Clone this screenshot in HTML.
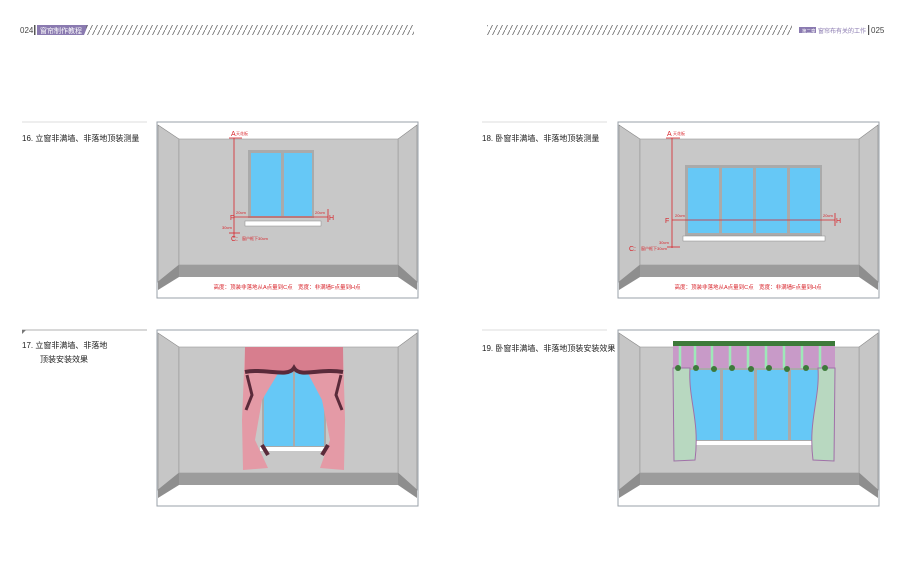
<!DOCTYPE html>
<html><head><meta charset="utf-8"><style>
html,body{margin:0;padding:0;background:#fff;}
svg{display:block;font-family:"Liberation Sans","Noto Sans CJK SC",sans-serif;}
</style></head><body>
<svg width="900" height="568" viewBox="0 0 900 568" xmlns="http://www.w3.org/2000/svg">
<defs>
<pattern id="hatch" width="5" height="10" patternUnits="userSpaceOnUse">
<line x1="0" y1="10" x2="5" y2="0" stroke="#666" stroke-width="0.8"/>
</pattern>
<g id="room">
<rect x="0" y="0" width="261" height="176" fill="#fff" stroke="#9aa0a8" stroke-width="1"/>
<polygon points="1,3 22,17 22,143 1,160" fill="#c6c6c6" stroke="#888" stroke-width="0.6"/>
<polygon points="1,160 22,143 22,155 1,168" fill="#8e8e8e"/>
<polygon points="260,3 241,17 241,143 260,160" fill="#c6c6c6" stroke="#888" stroke-width="0.6"/>
<polygon points="260,160 241,143 241,155 260,168" fill="#8e8e8e"/>
<rect x="22" y="17" width="219" height="126" fill="#c8c8c8" stroke="#999" stroke-width="0.6"/>
<rect x="22" y="143" width="219" height="12" fill="#9c9c9c"/>
</g>
</defs>

<!-- headers -->
<text x="20" y="33" font-size="8" fill="#444">024</text>
<rect x="34" y="25" width="1.5" height="10" fill="#555"/>
<polygon points="37,25 88,25 84,35 37,35" fill="#8a7ab0"/>
<text x="40" y="33" font-size="7" fill="#fff">窗帘制作教程</text>
<rect x="86" y="25" width="328" height="10" fill="url(#hatch)"/>
<rect x="487" y="25" width="305" height="10" fill="url(#hatch)"/>
<rect x="799" y="27" width="17" height="6" fill="#8a7ab0"/>
<text x="802" y="32.5" font-size="4.5" fill="#fff">第二章</text>
<text x="818" y="33" font-size="6" fill="#8a7ab0">窗帘布有关的工作</text>
<rect x="868" y="25" width="1.2" height="10" fill="#555"/>
<text x="871" y="33" font-size="8" fill="#444">025</text>

<!-- titles -->
<line x1="22" y1="122" x2="147" y2="122" stroke="#bbb" stroke-width="0.6"/>
<text x="22" y="141" font-size="8" fill="#222">16.  立窗非满墙、非落地顶装测量</text>
<line x1="22" y1="330" x2="147" y2="330" stroke="#999" stroke-width="0.8"/>
<polygon points="22,330 26,330 22,334" fill="#777"/>
<text x="22" y="348" font-size="8" fill="#222">17.  立窗非满墙、非落地</text>
<text x="40" y="362" font-size="8" fill="#222">顶装安装效果</text>
<line x1="482" y1="122" x2="607" y2="122" stroke="#bbb" stroke-width="0.6"/>
<text x="482" y="141" font-size="8" fill="#222">18.  卧窗非满墙、非落地顶装测量</text>
<line x1="482" y1="330" x2="607" y2="330" stroke="#bbb" stroke-width="0.6"/>
<text x="482" y="351" font-size="8" fill="#222">19.  卧窗非满墙、非落地顶装安装效果</text>

<!-- Panel 16 -->
<use href="#room" x="157" y="122"/>
<rect x="248" y="150" width="66" height="68" fill="#aaa"/>
<rect x="251" y="153" width="30" height="63" fill="#66c8f6"/>
<rect x="284" y="153" width="28" height="63" fill="#66c8f6"/>
<rect x="245" y="221" width="76" height="5" fill="#fff" stroke="#888" stroke-width="0.5"/>
<g stroke="#d8232a" stroke-width="0.8" fill="none">
<line x1="234" y1="138" x2="234" y2="238"/>
<line x1="229" y1="138" x2="242" y2="138"/>
<line x1="234" y1="217" x2="328" y2="217"/>
<line x1="328" y1="209" x2="328" y2="222"/>
<line x1="229" y1="233" x2="240" y2="233"/>
</g>
<g fill="#d8232a">
<text x="231" y="136" font-size="7">A</text><text x="236" y="135" font-size="4">天花板</text>
<text x="230" y="220" font-size="7">F</text>
<text x="236" y="214" font-size="4">20cm</text>
<text x="315" y="214" font-size="4">20cm</text>
<text x="329" y="220" font-size="7">H</text>
<text x="222" y="229" font-size="4">30cm</text>
<text x="231" y="241" font-size="7">C:</text><text x="242" y="240" font-size="4">窗户框下30cm</text>
<text x="287" y="289" font-size="5.5" text-anchor="middle">高度：顶装非落地从A点量到C点　宽度：非满墙F点量到H点</text>
</g>

<!-- Panel 18 -->
<use href="#room" x="618" y="122"/>
<rect x="685" y="165" width="137" height="71" fill="#aaa"/>
<rect x="688" y="168" width="31" height="65" fill="#66c8f6"/>
<rect x="722" y="168" width="31" height="65" fill="#66c8f6"/>
<rect x="756" y="168" width="31" height="65" fill="#66c8f6"/>
<rect x="790" y="168" width="30" height="65" fill="#66c8f6"/>
<rect x="683" y="236" width="142" height="5" fill="#fff" stroke="#888" stroke-width="0.5"/>
<g stroke="#d8232a" stroke-width="0.8" fill="none">
<line x1="672" y1="138" x2="672" y2="248"/>
<line x1="666" y1="138" x2="680" y2="138"/>
<line x1="672" y1="220" x2="835" y2="220"/>
<line x1="835" y1="213" x2="835" y2="226"/>
<line x1="667" y1="247" x2="680" y2="247"/>
</g>
<g fill="#d8232a">
<text x="667" y="136" font-size="7">A</text><text x="673" y="135" font-size="4">天花板</text>
<text x="665" y="223" font-size="7">F</text>
<text x="675" y="217" font-size="4">20cm</text>
<text x="823" y="217" font-size="4">20cm</text>
<text x="836" y="223" font-size="7">H</text>
<text x="659" y="244" font-size="4">30cm</text>
<text x="629" y="251" font-size="7">C:</text><text x="641" y="250" font-size="4">窗户框下30cm</text>
<text x="748" y="289" font-size="5.5" text-anchor="middle">高度：顶装非落地从A点量到C点　宽度：非满墙F点量到H点</text>
</g>

<!-- Panel 17 -->
<use href="#room" x="157" y="330"/>
<rect x="262" y="360" width="64" height="88" fill="#aaa"/>
<rect x="264" y="362" width="29" height="84" fill="#66c8f6"/>
<rect x="295" y="362" width="29" height="84" fill="#66c8f6"/>
<rect x="260" y="447" width="68" height="4" fill="#fff"/>
<path d="M245,347 L294,347 L262,400 L255,440 L268,468 L243,470 L242,420 Z" fill="#e49aa6"/>
<path d="M294,347 L343,347 L345,420 L344,470 L320,468 L330,440 L322,400 Z" fill="#e49aa6"/>
<path d="M245,347 L343,347 L343,372 C320,368 300,378 294,368 C288,378 265,368 245,372 Z" fill="#d77e8e"/>
<path d="M245,372 C265,368 288,378 294,368 C300,378 320,368 343,372" stroke="#5a2a3a" stroke-width="4" fill="none"/>
<path d="M247,375 L252,395 L246,410" stroke="#5a2a3a" stroke-width="3" fill="none"/>
<path d="M341,375 L336,395 L342,410" stroke="#5a2a3a" stroke-width="3" fill="none"/>
<path d="M262,445 L268,455 M328,445 L322,455" stroke="#5a2a3a" stroke-width="4"/>

<!-- Panel 19 -->
<use href="#room" x="618" y="330"/>
<rect x="686" y="368" width="134" height="74" fill="#aaa"/>
<rect x="689" y="370" width="31" height="70" fill="#66c8f6"/>
<rect x="723" y="370" width="31" height="70" fill="#66c8f6"/>
<rect x="757" y="370" width="31" height="70" fill="#66c8f6"/>
<rect x="791" y="370" width="28" height="70" fill="#66c8f6"/>
<rect x="684" y="441" width="138" height="4" fill="#fff"/>
<rect x="673" y="341" width="162" height="5" fill="#3d7a3a"/>
<rect x="673" y="346" width="162" height="22" fill="#c89ac8"/>
<g stroke="#9ee8b8" stroke-width="2.5">
<line x1="680" y1="346" x2="680" y2="368"/><line x1="695" y1="346" x2="695" y2="368"/><line x1="712" y1="346" x2="712" y2="368"/><line x1="730" y1="346" x2="730" y2="368"/><line x1="748" y1="346" x2="748" y2="368"/><line x1="766" y1="346" x2="766" y2="368"/><line x1="784" y1="346" x2="784" y2="368"/><line x1="802" y1="346" x2="802" y2="368"/><line x1="820" y1="346" x2="820" y2="368"/>
</g>
<path d="M673,368 L690,368 C688,400 700,420 695,460 L674,461 Z" fill="#b8d8c0" stroke="#a070a8" stroke-width="1"/>
<path d="M835,368 L818,368 C820,400 808,420 813,460 L834,461 Z" fill="#b8d8c0" stroke="#a070a8" stroke-width="1"/>
<g fill="#3d7a3a">
<circle cx="678" cy="368" r="3"/><circle cx="696" cy="368" r="3"/><circle cx="714" cy="369" r="3"/><circle cx="732" cy="368" r="3"/><circle cx="751" cy="369" r="3"/><circle cx="769" cy="368" r="3"/><circle cx="787" cy="369" r="3"/><circle cx="806" cy="368" r="3"/><circle cx="825" cy="368" r="3"/>
</g>
</svg>
</body></html>
